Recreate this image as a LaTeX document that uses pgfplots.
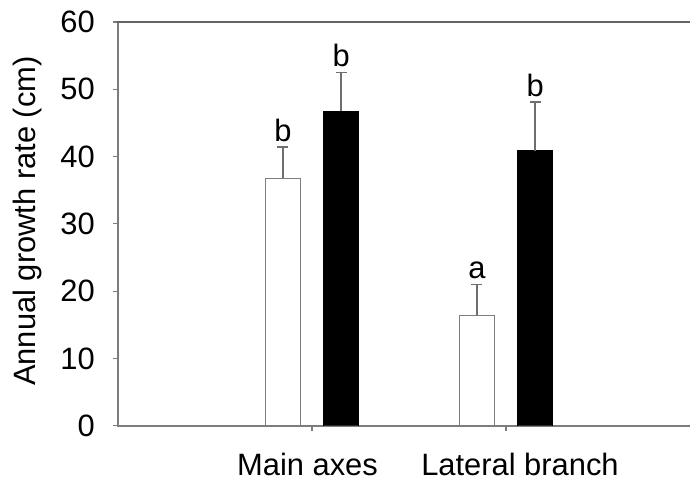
\documentclass[border=0pt]{standalone}
\usepackage{fontspec}
\setmainfont{Liberation Sans}
\usepackage{pgfplots}
\pgfplotsset{compat=1.18}

\definecolor{axisgray}{RGB}{125,125,125}
\definecolor{framegray}{RGB}{100,100,100}
\definecolor{errgray}{RGB}{110,110,110}

\begin{document}
\begin{tikzpicture}
\useasboundingbox (0,0) rectangle (690bp,484bp);

\begin{axis}[%
at={(118bp,58.3bp)},
anchor=south west,
scale only axis,
width=582bp,
height=403.7bp,
axis lines=box,
xmin=0,
xmax=3,
ymin=0,
ymax=60,
ytick={0,10,...,60},
xtick={1,2},
xticklabels={\hspace*{-9bp}Main axes,\hspace*{28bp}Lateral branch},
axis line style={color=axisgray, line width=1.6bp},
tick style={color=axisgray, line width=1.2bp},
tick align=outside,
major tick length=5bp,
xtick pos=left,
ytick pos=left,
font=\fontsize{31}{36}\selectfont,
/pgf/number format/assume math mode=true,
yticklabel style={inner sep=0pt, xshift=-18bp},
xticklabel style={inner sep=0pt, yshift=-22bp},
ylabel={Annual growth rate (cm)},
ylabel style={at={(axis description cs:-0.155,0.507)}, anchor=center, inner sep=0pt},
]

% open bars (x = category position - 0.15)
\addplot[ybar, bar width=0.18, bar shift=0, draw=axisgray, line width=1bp, fill=white,
  error bars/.cd, y dir=plus, y explicit,
  error bar style={color=errgray, line width=1.3bp},
  error mark options={rotate=90, mark size=5.5bp, color=errgray, line width=1.3bp}]
  table[x=x, y=y, y error=e] {
x y e
0.85 36.8 4.6
1.85 16.4 4.6
};

% filled bars (x = category position + 0.15)
\addplot[ybar, bar width=0.18, bar shift=0, draw=black, fill=black,
  error bars/.cd, y dir=plus, y explicit,
  error bar style={color=errgray, line width=1.3bp},
  error mark options={rotate=90, mark size=5.5bp, color=errgray, line width=1.3bp}]
  table[x=x, y=y, y error=e] {
x y e
1.15 46.7 5.8
2.15 40.9 7.2
};

% significance letters
\node[anchor=south, inner sep=0pt, yshift=5bp] at (axis cs:0.85,41.4) {b};
\node[anchor=south, inner sep=0pt, yshift=5bp] at (axis cs:1.15,52.5) {b};
\node[anchor=south, inner sep=0pt, yshift=5bp] at (axis cs:1.85,21.0) {a};
\node[anchor=south, inner sep=0pt, yshift=5bp] at (axis cs:2.15,48.1) {b};

\end{axis}
% top frame line of the plot area
\fill[framegray] (117.2bp,460.8bp) rectangle (690bp,463.2bp);
\end{tikzpicture}
\end{document}
